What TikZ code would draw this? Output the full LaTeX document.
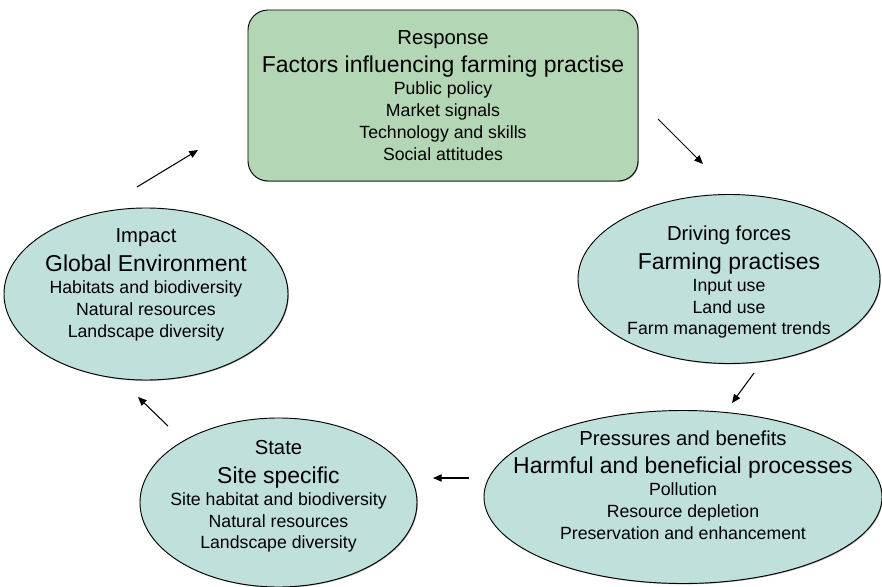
\documentclass[tikz,border=0pt]{standalone}
\usepackage{fontspec}
\setmainfont{Liberation Sans}
\usetikzlibrary{arrows.meta,shapes.geometric,shadows}
\definecolor{Sage}{HTML}{B3D6B5}
\definecolor{Aqua}{HTML}{C0E0DC}
\newcommand{\hd}{\fontsize{17.3}{21}\selectfont}
\newcommand{\bigline}{\fontsize{19.6}{23}\selectfont}
\newcommand{\padlow}[1]{\rule[-#1]{0pt}{0pt}}
\tikzset{
  response/.style={
    rounded corners=0.6cm, draw=black, line width=0.8pt, fill=Sage,
    minimum width=11.7cm, minimum height=5.13cm, align=center, inner sep=0pt,
    drop shadow={shadow xshift=0.7pt, shadow yshift=-0.7pt, fill=black!60, opacity=0.6}
  },
  stage/.style={
    ellipse, draw=black, line width=0.8pt, fill=Aqua,
    inner xsep=-1.2cm, inner ysep=-1cm, align=center,
    drop shadow={shadow xshift=0.7pt, shadow yshift=-0.7pt, fill=black!60, opacity=0.6}
  },
  loopflow/.style={-{Triangle[length=2.6mm,width=2.2mm]}, line width=0.9pt}
}

\begin{document}
\begin{tikzpicture}[x=0.03cm,y=-0.03cm,font=\fontsize{15.1}{18.7}\selectfont]
  \useasboundingbox (0,0) rectangle (882,587);
  \node[response] (response) at (443,95.5)
    {{\hd Response}\\[5.5pt]{\bigline Factors influencing farming practise}\\Public policy\\Market signals\\Technology and skills\\Social attitudes};
  \node[stage,minimum width=8.52cm,minimum height=5.16cm] (impact) at (146,294)
    {{\hd Impact}\\[5.5pt]{\bigline Global Environment}\\Habitats and biodiversity\\Natural resources\\Landscape diversity\padlow{0.66cm}};
  \node[stage,minimum width=9.06cm,minimum height=5.07cm] (driving) at (729,279)
    {{\hd\rule{0pt}{0.645cm}Driving forces}\\[5.5pt]{\bigline Farming practises}\\Input use\\Land use\\Farm management trends};
  \node[stage,minimum width=11.94cm,minimum height=5.19cm] (pressures) at (683,497)
    {{\hd Pressures and benefits}\\[5.5pt]{\bigline Harmful and beneficial processes}\\Pollution\\Resource depletion\\Preservation and enhancement\padlow{0.72cm}};
  \node[stage,minimum width=8.31cm,minimum height=5.07cm] (state) at (278.5,502.5)
    {{\hd State}\\[5.5pt]{\bigline Site specific}\\Site habitat and biodiversity\\Natural resources\\Landscape diversity\padlow{0.46cm}};

  % free-standing arrows between the stages
  \coordinate (imp-a) at (137,187);
  \coordinate (imp-b) at (198,150);
  \coordinate (res-a) at (658,119);
  \coordinate (res-b) at (703,164);
  \coordinate (drv-a) at (754,373);
  \coordinate (drv-b) at (732,403);
  \coordinate (prs-a) at (469,478);
  \coordinate (prs-b) at (433,478);
  \coordinate (sta-a) at (168,426);
  \coordinate (sta-b) at (138,397);
  \draw[loopflow] (imp-a)--(imp-b);
  \draw[loopflow] (res-a)--(res-b);
  \draw[loopflow] (drv-a)--(drv-b);
  \draw[loopflow] (prs-a)--(prs-b);
  \draw[loopflow] (sta-a)--(sta-b);
\end{tikzpicture}
\end{document}
